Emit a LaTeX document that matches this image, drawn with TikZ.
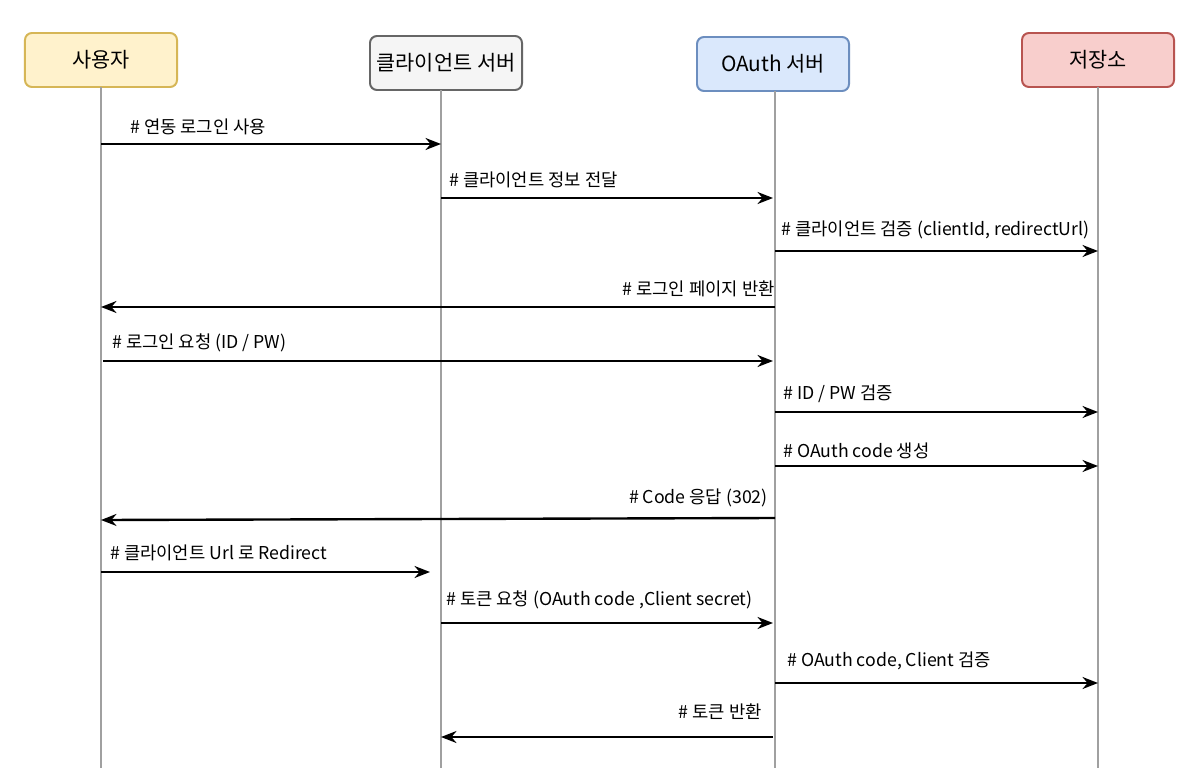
\documentclass[tikz,border=0pt]{standalone}
\usepackage{fontspec}
\setmainfont{Noto Sans CJK KR}
\usetikzlibrary{arrows.meta, positioning}
\definecolor{useryel}{RGB}{255,242,204}
\definecolor{userbrd}{RGB}{214,182,86}
\definecolor{cligray}{RGB}{245,245,245}
\definecolor{clibrd}{RGB}{102,102,102}
\definecolor{authblue}{RGB}{218,232,252}
\definecolor{authbrd}{RGB}{108,142,191}
\definecolor{storered}{RGB}{248,206,204}
\definecolor{storebrd}{RGB}{184,84,80}
\definecolor{lifegray}{RGB}{160,160,160}
\tikzset{
  actor/.style={rectangle, minimum width=3.8cm, minimum height=1.35cm,
    rounded corners=5pt, line width=1.4pt, font=\fontsize{14.8}{17}\selectfont},
  lifeline/.style={line width=1.2pt, color=lifegray},
  msg/.style={-{Stealth[length=11pt, width=8.5pt]}, line width=1.7pt, color=black},
  msglabel/.style={font=\fontsize{12.6}{14}\selectfont, inner sep=0pt}
}

\begin{document}
\begin{tikzpicture}[x=0.025cm, y=-0.025cm]
  \useasboundingbox[fill=white] (0,0) rectangle (1200,768);

  % Participants
  \node[actor, draw=userbrd, fill=useryel] (user) at (101,60) {사용자};
  \node[actor, draw=clibrd, fill=cligray] (client) at (446,63) {클라이언트 서버};
  \node[actor, draw=authbrd, fill=authblue] (auth) at (773,64) {OAuth 서버};
  \node[actor, draw=storebrd, fill=storered] (store) at (1098,60) {저장소};

  % Lifelines
  \coordinate (lu) at (101,87);
  \coordinate (lc) at (441,90);
  \coordinate (la) at (775,91);
  \coordinate (ls) at (1098,87);
  \coordinate (lu end) at (101,768);
  \coordinate (lc end) at (441,768);
  \coordinate (la end) at (775,768);
  \coordinate (ls end) at (1098,768);
  \draw[lifeline] (lu) -- (lu end);
  \draw[lifeline] (lc) -- (lc end);
  \draw[lifeline] (la) -- (la end);
  \draw[lifeline] (ls) -- (ls end);

  % Messages
  \draw[msg] (lu |- 0,144) -- (lc |- 0,144);
  \node[msglabel, anchor=west] (m1) at (130,127) {\# 연동 로그인 사용};

  \draw[msg] (lc |- 0,198) -- (773,198);
  \node[msglabel, anchor=west] (m2) at (449,180) {\# 클라이언트 정보 전달};

  \draw[msg] (la |- 0,251) -- (ls |- 0,251);
  \node[msglabel, anchor=west] (m3) at (781,230) {\# 클라이언트 검증 (clientId, redirectUrl)};

  \draw[msg] (la |- 0,307) -- (lu |- 0,307);
  \node[msglabel, anchor=east] (m4) at (775,289) {\# 로그인 페이지 반환};

  \draw[msg] (103,361) -- (773,361);
  \node[msglabel, anchor=west] (m5) at (112,343) {\# 로그인 요청 (ID / PW)};

  \draw[msg] (la |- 0,412) -- (ls |- 0,412);
  \node[msglabel, anchor=west] (m6) at (783,394) {\# ID / PW 검증};

  \draw[msg] (la |- 0,466) -- (ls |- 0,466);
  \node[msglabel, anchor=west] (m7) at (783,451) {\# OAuth code 생성};

  \draw[msg] (la |- 0,518) -- (lu |- 0,520);
  \node[msglabel, anchor=east] (m8) at (768,498) {\# Code 응답 (302)};

  \draw[msg] (lu |- 0,572) -- (430,572);
  \node[msglabel, anchor=west] (m9) at (110,553) {\# 클라이언트 Url 로 Redirect};

  \draw[msg] (lc |- 0,623) -- (773,623);
  \node[msglabel, anchor=west] (m10) at (446,600) {\# 토큰 요청 (OAuth code ,Client secret)};

  \draw[msg] (la |- 0,683) -- (ls |- 0,683);
  \node[msglabel, anchor=west] (m11) at (787,661) {\# OAuth code, Client 검증};

  \draw[msg] (773,737) -- (lc |- 0,737);
  \node[msglabel, anchor=east] (m12) at (762,712) {\# 토큰 반환};
\end{tikzpicture}
\end{document}
